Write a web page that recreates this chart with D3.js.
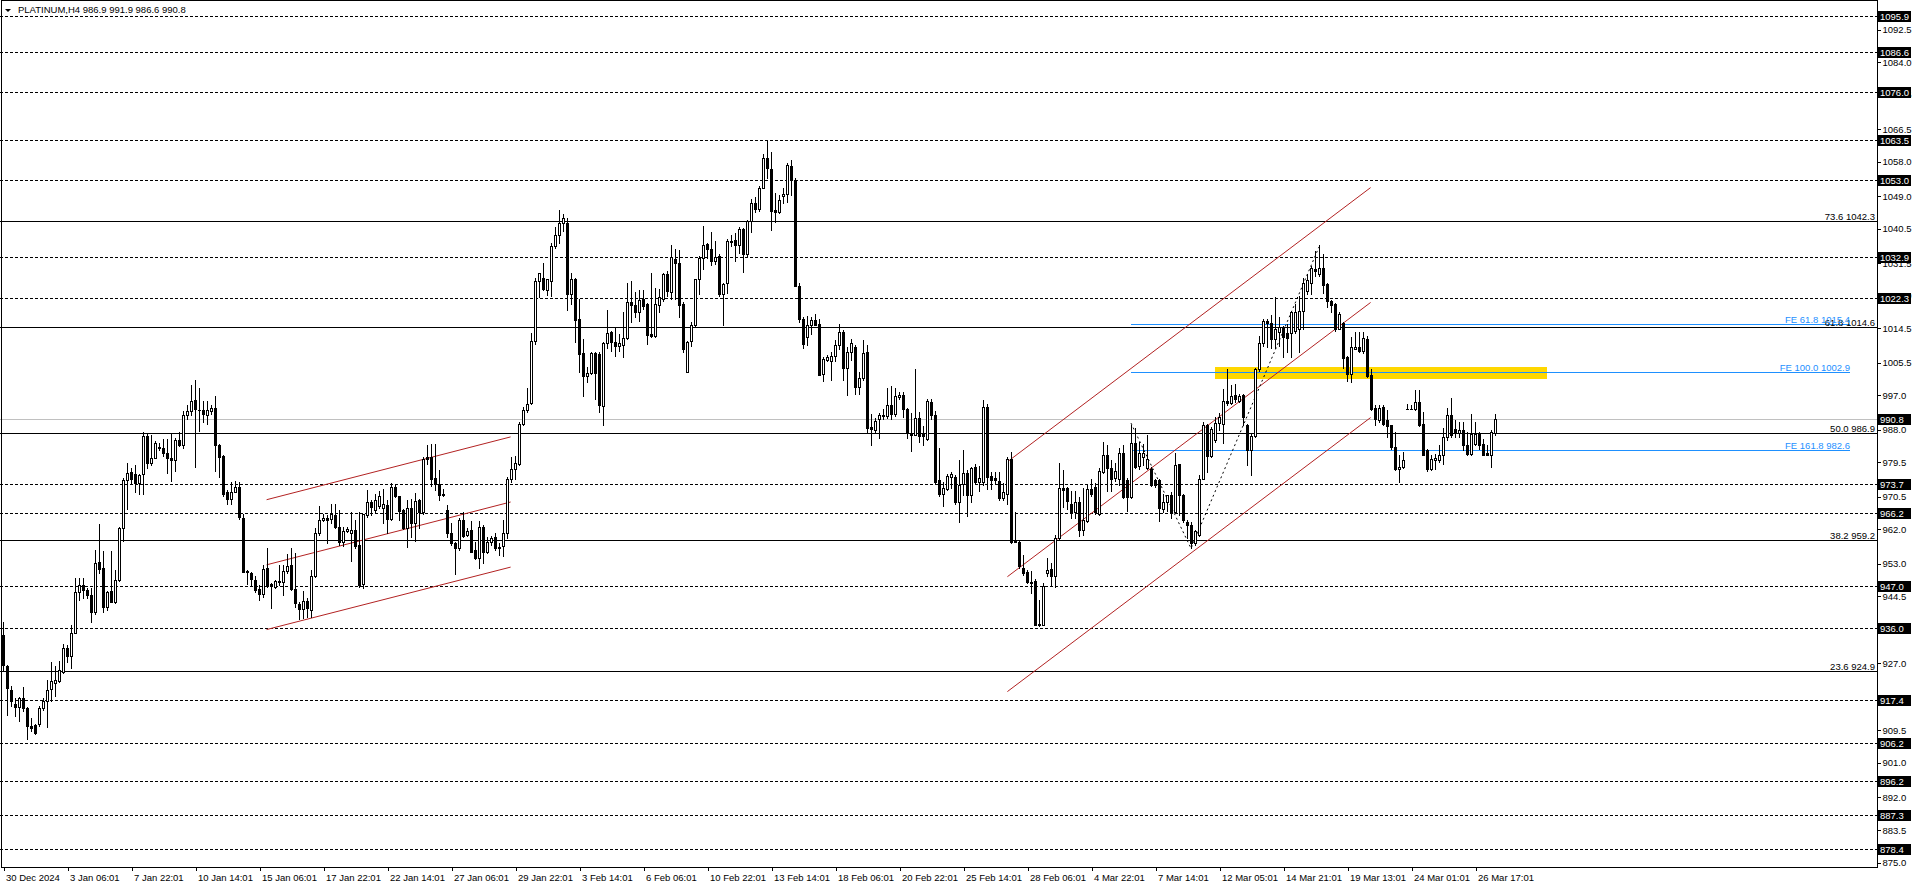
<!DOCTYPE html>
<html><head><meta charset="utf-8">
<script src="https://cdn.jsdelivr.net/npm/d3@7"></script>
<style>
body{margin:0;background:#fff;overflow:hidden;}
svg text{font-family:"Liberation Sans",Arial,sans-serif;font-size:9.5px;}
</style>
</head><body>
<svg id="chart" width="1916" height="888"></svg>
<script>
// ---------- DATA ----------
const opens=[934.4,926.1,920.0,916.3,915.4,917.7,915.3,910.5,910.9,911.1,915.1,917.0,920.3,921.8,922.2,924.6,930.9,928.7,934.8,945.6,947.4,946.1,944.8,940.3,953.3,951.7,941.5,945.8,943.0,948.7,962.1,974.7,976.9,976.2,974.0,976.4,986.2,979.1,980.5,983.4,983.2,981.9,980.4,979.9,985.3,984.0,991.8,992.7,995.7,993.0,993.1,991.6,992.7,993.6,983.8,981.1,971.7,969.9,971.7,973.0,964.9,951.0,950.4,948.6,946.3,945.0,951.7,947.5,946.9,948.2,948.2,950.9,952.6,946.3,942.3,941.1,943.2,940.9,949.8,960.8,964.3,964.9,964.6,965.6,962.6,958.5,961.5,960.8,961.7,957.8,947.5,965.6,969.1,966.9,968.0,967.4,968.3,964.5,972.9,970.6,966.8,962.1,967.4,963.4,969.4,966.4,980.7,980.7,975.3,973.8,971.2,966.8,961.0,958.2,956.9,964.2,960.3,961.6,956.4,954.3,962.5,956.0,958.6,959.9,957.3,957.6,960.9,974.9,977.5,978.8,989.4,993.1,994.9,1011.1,1026.7,1027.6,1024.4,1026.7,1035.8,1038.6,1041.8,1041.8,1023.3,1027.2,1016.8,1007.9,1001.8,1002.7,1007.9,1007.6,994.0,1010.5,1013.5,1010.7,1009.8,1010.0,1011.7,1021.3,1020.4,1018.7,1022.0,1020.7,1012.8,1012.4,1020.4,1022.0,1028.5,1023.9,1032.5,1031.5,1020.7,1003.0,1011.1,1015.2,1027.2,1032.8,1036.3,1035.0,1031.9,1033.2,1023.3,1026.3,1037.2,1037.4,1036.0,1040.4,1033.7,1042.4,1047.1,1045.4,1051.1,1058.9,1055.9,1045.2,1044.8,1048.9,1049.4,1056.8,1053.1,1025.3,1016.8,1012.1,1015.3,1016.4,1015.5,1002.5,1006.0,1005.7,1007.1,1009.9,1013.5,1004.0,1008.1,1009.4,999.0,1001.4,1008.1,988.6,987.7,990.6,991.5,991.5,994.3,992.1,996.5,997.0,993.4,987.1,986.6,991.0,986.9,985.4,995.1,991.7,974.7,971.0,972.4,975.6,975.6,968.9,973.6,976.7,970.8,978.2,974.3,974.3,993.8,975.9,975.2,974.5,970.0,971.0,980.2,958.8,958.6,951.9,950.7,948.2,948.4,937.2,937.0,950.4,951.5,949.6,959.5,972.7,972.6,968.4,966.3,968.9,961.7,964.0,972.5,973.0,965.8,976.9,981.4,977.9,975.3,975.0,981.9,974.7,970.4,984.3,978.5,980.7,977.9,977.7,974.7,974.7,967.3,968.9,970.8,966.4,979.0,970.8,963.8,963.1,958.2,960.5,975.1,989.0,981.0,985.3,989.7,989.4,995.5,994.9,997.0,995.5,997.0,989.0,982.7,986.2,1003.6,1010.5,1016.3,1015.7,1011.6,1013.3,1014.6,1013.1,1013.1,1013.7,1014.2,1018.9,1024.0,1026.3,1029.8,1028.5,1030.2,1025.9,1021.5,1020.7,1014.3,1015.7,1006.8,1002.4,1009.0,1009.4,1008.5,1011.6,1002.2,993.5,990.3,993.8,990.3,989.0,983.3,977.5,978.1,993.3,993.4,993.3,995.2,989.4,982.7,977.7,980.1,979.9,981.2,986.0,991.6,988.1,987.1,987.7,984.0,981.6,984.2,986.8,984.2,981.9,981.4,986.9];
const highs=[937.8,926.5,920.9,917.9,918.0,920.6,915.5,912.7,911.1,915.7,917.7,922.6,927.2,926.1,927.4,931.9,931.7,937.0,949.1,949.1,949.1,946.5,946.5,956.5,963.2,956.2,945.8,956.1,951.3,962.6,975.2,979.1,977.8,978.6,976.4,987.3,986.9,986.6,984.9,984.3,985.4,985.4,986.9,985.6,987.3,992.7,994.4,999.6,1000.9,998.8,995.3,995.3,994.3,996.7,984.2,981.4,972.1,974.3,974.5,974.3,966.0,951.3,950.8,949.6,947.4,952.6,956.9,947.8,948.7,952.6,952.6,955.4,956.9,955.6,943.0,945.8,943.9,951.3,962.1,968.0,966.0,965.6,968.6,968.6,966.9,962.6,962.6,966.5,964.3,966.5,966.0,972.1,969.5,971.0,972.0,972.5,969.4,974.0,973.8,970.7,967.3,969.4,969.9,971.4,969.9,980.7,983.8,984.2,984.2,977.3,972.3,968.1,963.4,958.6,964.7,966.4,962.1,964.0,958.6,964.0,963.1,959.9,960.2,960.9,958.2,964.2,975.5,980.7,980.9,989.8,993.7,998.7,1013.1,1027.6,1028.9,1031.3,1027.3,1036.7,1040.9,1045.2,1044.1,1043.2,1028.9,1027.6,1022.0,1011.5,1004.2,1008.1,1008.1,1008.1,1010.8,1019.2,1013.7,1014.6,1012.8,1018.5,1026.3,1026.7,1023.9,1024.4,1024.4,1020.9,1028.7,1025.0,1024.6,1028.9,1029.3,1036.0,1035.0,1034.8,1021.1,1011.1,1016.1,1027.3,1033.2,1041.1,1036.7,1039.5,1037.1,1033.7,1026.3,1037.6,1038.6,1039.3,1040.9,1040.6,1042.6,1048.0,1048.6,1051.5,1059.8,1063.3,1060.4,1049.6,1049.1,1051.1,1057.6,1058.3,1053.5,1026.2,1017.3,1017.5,1017.3,1018.1,1016.8,1006.8,1007.4,1008.1,1011.2,1015.5,1013.8,1009.4,1011.6,1009.9,1002.9,1011.2,1009.9,992.1,991.0,992.3,993.2,998.8,999.3,998.8,997.6,997.6,993.6,992.3,1003.6,992.5,988.9,996.0,995.8,992.7,983.0,974.1,976.2,976.9,976.0,979.9,982.5,977.3,978.2,978.8,978.5,995.6,994.7,976.9,976.9,976.9,973.9,980.8,982.1,966.3,958.8,955.2,951.3,950.9,948.9,943.5,947.8,954.5,953.0,960.4,979.1,977.3,973.0,971.9,971.9,970.4,972.7,973.4,975.0,973.9,977.8,984.7,983.8,979.9,979.1,983.1,983.8,975.2,989.0,988.2,984.6,984.2,986.4,978.1,974.9,975.1,971.2,970.9,971.6,981.9,979.0,971.2,964.3,963.8,961.6,976.1,990.0,989.4,988.6,991.2,992.3,998.4,1003.6,999.6,999.8,997.2,997.2,989.4,987.1,1003.9,1012.4,1016.9,1016.8,1017.8,1022.4,1017.2,1015.0,1015.5,1018.9,1020.7,1022.8,1027.6,1028.5,1030.7,1034.6,1036.0,1033.7,1026.3,1021.8,1020.9,1018.5,1015.9,1007.0,1012.0,1013.3,1013.3,1013.3,1012.4,1003.6,994.2,994.2,994.2,992.9,989.2,987.3,981.2,982.0,994.6,994.2,998.3,998.3,992.5,982.9,981.2,981.6,983.8,988.3,993.5,996.1,990.3,989.9,990.0,987.3,992.0,989.9,987.3,985.5,983.8,987.7,991.9];
const lows=[925.2,913.5,915.7,913.1,911.8,914.5,907.0,909.2,908.3,910.5,914.8,910.2,917.0,918.3,922.0,924.4,927.2,925.7,934.8,943.5,943.9,943.9,937.8,939.7,950.4,940.3,940.9,942.9,942.6,948.4,958.8,967.3,973.9,971.7,971.0,971.0,977.8,978.6,980.4,982.5,981.0,976.7,974.5,977.1,983.7,983.0,990.6,991.8,978.1,987.5,989.9,989.4,992.1,977.1,975.6,970.6,968.6,968.6,971.5,964.6,950.7,947.5,947.2,945.5,943.5,944.3,946.9,941.3,946.5,947.4,944.8,950.4,946.1,941.5,938.5,938.7,939.1,938.9,949.3,960.4,964.0,958.2,963.4,962.1,957.8,957.4,961.3,953.6,956.9,946.9,946.5,965.2,965.6,966.5,967.5,963.4,960.8,964.2,970.3,964.2,961.9,957.3,959.9,958.8,962.1,966.0,979.0,973.3,972.1,969.4,970.6,959.9,957.7,950.3,956.4,959.9,960.2,956.0,954.1,951.8,953.0,955.6,957.7,956.4,955.1,955.0,959.5,974.2,974.9,978.6,989.0,992.4,994.6,1010.2,1022.4,1024.4,1023.0,1022.8,1035.4,1036.7,1039.8,1019.2,1020.7,1010.7,1002.9,996.8,1000.3,1002.4,995.9,992.4,989.2,1009.1,1008.5,1007.0,1008.5,1006.8,1011.5,1015.9,1017.2,1016.3,1019.4,1010.2,1012.0,1012.2,1018.5,1021.5,1022.8,1022.0,1022.0,1017.2,1008.1,1002.9,1009.8,1015.0,1023.3,1029.8,1032.8,1030.8,1031.1,1022.8,1015.2,1023.7,1035.8,1032.0,1034.1,1029.1,1033.2,1039.5,1044.8,1045.0,1050.9,1053.5,1040.1,1042.0,1044.4,1047.2,1047.4,1049.1,1025.5,1016.0,1009.2,1010.1,1012.9,1015.1,1002.1,1000.5,1005.7,1000.8,1005.7,1009.0,1000.8,997.0,1006.0,997.3,997.3,1000.8,987.3,984.0,987.3,985.8,990.6,991.0,990.8,991.5,996.0,991.2,985.8,982.3,986.6,984.7,983.8,985.1,990.6,973.9,970.6,968.0,972.1,972.7,968.4,963.7,970.8,965.4,969.1,973.9,971.9,973.4,972.4,972.4,973.9,969.5,969.5,968.4,958.2,958.5,951.7,950.0,947.8,945.2,936.8,936.5,936.8,949.6,947.4,946.9,959.1,967.8,967.3,964.7,964.7,960.2,960.4,963.9,970.6,965.8,965.6,976.5,971.9,971.9,974.5,973.4,970.1,966.7,970.1,977.8,977.5,978.6,977.7,973.2,973.0,964.0,966.4,966.6,964.7,966.2,965.6,963.8,959.5,956.9,957.9,960.2,974.9,976.8,980.7,984.6,987.7,984.5,994.4,994.6,995.1,995.1,989.0,978.7,976.0,986.0,1003.3,1009.8,1009.4,1009.1,1009.1,1009.8,1006.8,1008.1,1006.8,1013.1,1008.1,1014.2,1023.3,1023.3,1028.0,1028.0,1023.7,1019.8,1018.7,1013.7,1014.2,1003.9,1000.7,1000.3,1008.9,1008.1,1007.9,1001.6,992.9,989.2,989.9,989.0,986.0,982.9,977.3,974.2,977.9,993.3,993.3,992.9,988.8,981.2,977.0,977.3,977.7,979.4,979.0,985.3,986.0,986.0,986.0,982.7,981.2,981.4,983.8,982.9,981.2,981.2,978.1,986.6];
const closes=[926.5,920.5,917.0,915.4,917.7,915.1,910.5,910.0,908.8,915.3,917.0,920.0,922.2,922.6,925.2,931.0,928.7,934.8,945.6,947.4,946.1,944.8,940.3,953.0,951.5,941.5,945.5,943.0,948.7,962.1,974.7,976.7,975.0,974.0,976.0,986.2,979.2,980.5,984.3,983.0,981.9,980.4,979.9,985.3,984.0,991.6,992.7,995.4,993.4,993.1,991.9,992.9,993.6,983.8,980.7,971.2,969.9,971.7,973.0,965.2,950.8,950.7,948.9,946.1,945.0,951.5,947.2,947.2,948.5,948.4,951.0,952.4,946.3,942.6,941.1,943.2,941.3,949.8,960.8,964.3,964.7,964.3,965.9,962.6,958.5,961.5,962.0,961.7,957.5,947.4,965.8,968.9,967.8,969.5,970.5,968.6,964.5,972.9,970.6,966.6,962.1,967.4,963.4,969.2,966.4,980.3,980.3,975.1,973.8,970.9,970.9,960.8,958.2,956.9,964.2,960.2,961.5,956.0,954.3,962.5,956.0,958.6,959.6,956.9,957.0,960.9,974.9,977.5,979.2,989.4,993.1,994.6,1011.1,1026.7,1028.7,1024.6,1027.2,1035.8,1038.6,1041.8,1043.2,1023.3,1027.2,1016.6,1007.6,1001.8,1002.7,1007.9,1002.7,994.2,1010.5,1013.1,1010.7,1009.8,1010.5,1011.7,1021.3,1020.4,1018.5,1021.8,1020.2,1012.6,1012.4,1020.7,1022.4,1028.5,1024.1,1033.1,1031.5,1020.4,1008.9,1010.9,1015.2,1027.2,1032.8,1036.1,1035.0,1031.9,1033.1,1023.3,1025.9,1037.1,1036.9,1036.0,1040.4,1033.7,1042.4,1047.1,1045.4,1050.9,1058.9,1056.1,1045.0,1044.8,1047.9,1049.3,1056.9,1053.1,1025.5,1016.8,1010.3,1015.3,1016.4,1015.3,1002.2,1006.4,1006.8,1007.1,1009.9,1013.5,1004.0,1008.1,1010.6,999.0,1001.4,1008.0,988.2,988.0,990.1,991.8,991.8,994.3,992.1,996.7,996.9,993.4,986.9,986.6,991.0,986.3,986.3,995.3,991.7,974.1,971.0,972.6,975.9,976.2,968.9,973.4,976.5,970.8,977.8,974.3,975.3,993.8,975.6,974.7,974.7,970.0,971.5,980.2,958.5,958.5,952.2,950.4,948.2,947.8,937.0,936.8,947.2,951.3,949.6,959.5,972.7,972.1,969.3,966.5,968.9,961.7,964.3,972.5,971.2,966.3,977.1,981.4,977.9,975.0,977.1,981.9,970.4,970.4,984.3,978.2,981.9,981.7,980.3,973.4,973.4,967.5,968.9,970.8,966.4,978.6,970.8,964.3,962.9,958.2,961.4,975.1,989.0,981.0,988.1,989.7,991.2,995.5,994.9,996.6,995.8,996.6,991.2,982.7,986.2,1003.6,1010.5,1016.3,1015.7,1011.6,1014.2,1014.6,1012.0,1011.7,1018.5,1018.5,1018.9,1026.1,1027.0,1030.0,1029.4,1030.0,1025.6,1021.5,1020.4,1014.3,1018.1,1006.5,1002.4,1009.4,1009.4,1008.3,1011.7,1002.0,993.3,990.6,993.5,989.4,988.8,983.3,977.5,978.1,979.9,993.4,993.3,995.2,989.0,981.4,977.7,980.3,980.5,981.4,986.0,991.6,986.4,987.1,987.7,984.0,981.6,986.8,986.8,983.8,981.4,981.4,987.3,990.8];

const timeLabels=["30 Dec 2024","3 Jan 06:01","7 Jan 22:01","10 Jan 14:01","15 Jan 06:01","17 Jan 22:01","22 Jan 14:01","27 Jan 06:01","29 Jan 22:01","3 Feb 14:01","6 Feb 06:01","10 Feb 22:01","13 Feb 14:01","18 Feb 06:01","20 Feb 22:01","25 Feb 14:01","28 Feb 06:01","4 Mar 22:01","7 Mar 14:01","12 Mar 05:01","14 Mar 21:01","19 Mar 13:01","24 Mar 01:01","26 Mar 17:01"];
const timeLabelBars=[0,16,32,48,64,80,96,112,128,144,160,176,192,208,224,240,256,272,288,304,320,336,352,368];

const priceTicks=[1092.5,1084.0,1075.5,1066.5,1058.0,1049.0,1040.5,1031.5,1023.0,1014.5,1005.5,997.0,988.0,979.5,970.5,962.0,953.0,944.5,935.5,927.0,918.0,909.5,901.0,892.0,883.5,875.0];
const levelPrices=[1095.9,1086.6,1076.0,1063.5,1053.0,1032.9,1022.3,973.7,966.2,947.0,936.0,917.4,906.2,896.2,887.3,878.4];

const fibRatios=["73.6","61.8","50.0","38.2","23.6"];
const fibPrices=[1042.3,1014.6,986.9,959.2,924.9];

const feRatios=["61.8","100.0","161.8"];
const fePrices=[1015.4,1002.9,982.6];
const feRangeBars=[282,461.75];
const fePointBars=[282,297,329];
const fePointPrices=[989.6,956.9,1035.6];

const bidPrice=990.8;
const zoneBars=[303,386];
const zonePrices=[1001.2,1004.3];

// channels: [startBar, endBar], each line [startPrice, endPrice]
const channelLeftBars=[65.9,126.9];
const channelLeftLines=[[969.6,986.0],[952.6,969.0],[935.7,952.0]];
const channelRightBars=[251.1,341.9];
const channelRightLines=[[979.5,1051.1],[949.5,1021.1],[919.5,991.05]];

const titleText="PLATINUM,H4  986.9 991.9 986.6 990.8";

// ---------- DRAW ----------
const plotRight=1877, plotBottom=867;
const svg=d3.select("#chart");
const x=d3.scaleLinear().domain([0,468.5]).range([3,plotRight]);
const y=d3.scaleLinear().domain([878.4,1095.9]).range([849,16]);
const py=v=>Math.round(y(v))+0.5;

const g=svg.append("g").attr("shape-rendering","crispEdges");

g.selectAll("line.fib").data(fibPrices).enter().append("line")
 .attr("x1",0).attr("x2",plotRight).attr("y1",d=>py(d)).attr("y2",d=>py(d))
 .attr("stroke","#000").attr("stroke-width",1);

g.selectAll("line.lvl").data(levelPrices).enter().append("line")
 .attr("x1",0).attr("x2",plotRight).attr("y1",d=>py(d)).attr("y2",d=>py(d))
 .attr("stroke","#000").attr("stroke-width",1).attr("stroke-dasharray","3,2");

g.append("line").attr("x1",0).attr("x2",plotRight).attr("y1",py(bidPrice)).attr("y2",py(bidPrice))
 .attr("stroke","#c0c0c0");

g.append("rect").attr("x",Math.round(x(zoneBars[0]))).attr("width",Math.round(x(zoneBars[1])-x(zoneBars[0])))
 .attr("y",Math.round(y(zonePrices[1]))).attr("height",Math.round(y(zonePrices[0])-y(zonePrices[1])))
 .attr("fill","#FFD700");

g.selectAll("line.fe").data(fePrices).enter().append("line")
 .attr("x1",Math.round(x(feRangeBars[0]))).attr("x2",Math.round(x(feRangeBars[1])))
 .attr("y1",d=>py(d)).attr("y2",d=>py(d)).attr("stroke","#1E90FF");

const chanG=svg.append("g");
function drawChannel(bars,lines){
  lines.forEach(l=>{
    chanG.append("line").attr("x1",x(bars[0])).attr("x2",x(bars[1]))
      .attr("y1",y(l[0])).attr("y2",y(l[1])).attr("stroke","#B22222").attr("stroke-width",1);
  });
}
drawChannel(channelLeftBars,channelLeftLines);
drawChannel(channelRightBars,channelRightLines);

const zz=d3.line().x(d=>x(d[0])).y(d=>y(d[1]));
chanG.append("path").attr("d",zz(fePointBars.map((b,i)=>[b,fePointPrices[i]])))
 .attr("fill","none").attr("stroke","#000").attr("stroke-dasharray","2,3");

const idx=d3.range(opens.length);
const cg=svg.append("g").attr("shape-rendering","crispEdges");
idx.forEach(i=>{
  const cx=Math.round(x(i));
  const yh=Math.round(y(highs[i])), yl=Math.round(y(lows[i]));
  const o=opens[i], c=closes[i];
  const yt=Math.round(y(Math.max(o,c))), yb=Math.round(y(Math.min(o,c)));
  cg.append("rect").attr("x",cx).attr("y",yh).attr("width",1).attr("height",Math.max(1,yl-yh+1)).attr("fill","#000");
  cg.append("rect").attr("x",cx-1).attr("y",yt).attr("width",3).attr("height",Math.max(1,yb-yt+1)).attr("fill","#000");
  if(c>o && yb-yt-1>0){
    cg.append("rect").attr("x",cx).attr("y",yt+1).attr("width",1).attr("height",yb-yt-1).attr("fill","#fff");
  }
});

svg.append("rect").attr("x",1.5).attr("y",0.5).attr("width",plotRight-1.5).attr("height",plotBottom-0.5)
 .attr("fill","none").attr("stroke","#000").attr("shape-rendering","crispEdges");

const lg=svg.append("g");
fibPrices.forEach((p,i)=>{
  lg.append("text").attr("x",plotRight-2).attr("y",py(p)-2).attr("text-anchor","end")
    .attr("fill","#000").text(fibRatios[i]+" "+p.toFixed(1));
});
fePrices.forEach((p,i)=>{
  lg.append("text").attr("x",x(feRangeBars[1])).attr("y",py(p)-2).attr("text-anchor","end")
    .attr("fill","#1E90FF").text("FE "+feRatios[i]+" "+p.toFixed(1));
});

const yAxis=d3.axisRight(y).tickValues(priceTicks).tickSize(3).tickPadding(2).tickFormat(d3.format(".1f"));
const ya=svg.append("g").attr("transform",`translate(${plotRight+0.5},0.5)`).call(yAxis);
ya.select(".domain").remove();
ya.selectAll("text").attr("font-size",9.5).attr("font-family","Liberation Sans, Arial, sans-serif").attr("fill","#000");
ya.selectAll("line").attr("stroke","#000").attr("shape-rendering","crispEdges");

const bg=svg.append("g");
levelPrices.concat([bidPrice]).forEach(p=>{
  const yy=Math.round(y(p));
  bg.append("rect").attr("x",plotRight+1).attr("y",yy-5).attr("width",33).attr("height",11).attr("fill","#000").attr("shape-rendering","crispEdges");
  bg.append("text").attr("x",plotRight+3).attr("y",yy+4).attr("fill","#fff").text(p.toFixed(1));
});

const xAxis=d3.axisBottom(x).tickValues(timeLabelBars).tickSize(4).tickPadding(3).tickFormat((d,i)=>timeLabels[i]);
const xa=svg.append("g").attr("transform",`translate(0.5,${plotBottom})`).call(xAxis);
xa.select(".domain").remove();
xa.selectAll("line").attr("stroke","#000").attr("shape-rendering","crispEdges");
xa.selectAll("text").attr("text-anchor","start").attr("dx",2).attr("font-size",9.5)
  .attr("font-family","Liberation Sans, Arial, sans-serif").attr("fill","#000");

svg.append("path").attr("d","M5,9 L11,9 L8,12 Z").attr("fill","#000");
svg.append("text").attr("x",18).attr("y",13).attr("fill","#000").attr("font-size",10).text(titleText);
</script>
</body></html>
